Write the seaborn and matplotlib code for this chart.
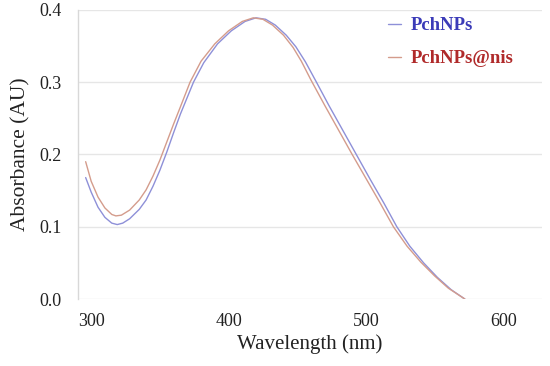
import matplotlib
matplotlib.use("Agg")
import matplotlib.pyplot as plt
import seaborn as sns
import pandas as pd

# Data
wl_nis = [296, 300, 305, 310, 315, 318, 322, 328, 335, 340, 345, 350, 355, 360, 365,
          372, 380, 390, 400, 410, 418, 425, 432, 440, 447, 453, 460, 470, 480, 490,
          500, 510, 520, 530, 540, 550, 560, 572]
abs_nis = [0.190, 0.163, 0.141, 0.126, 0.117, 0.115, 0.116, 0.123, 0.137, 0.151, 0.170,
           0.192, 0.217, 0.242, 0.266, 0.300, 0.329, 0.353, 0.371, 0.384, 0.389, 0.387,
           0.379, 0.365, 0.348, 0.329, 0.303, 0.268, 0.234, 0.200, 0.167, 0.134, 0.100,
           0.073, 0.051, 0.032, 0.015, 0.000]

wl_np = [296, 300, 305, 310, 315, 319, 323, 328, 335, 340, 345, 350, 355, 360, 365,
         374.5, 382, 392, 402, 412, 420, 427, 434, 442, 449, 456, 464, 473, 483, 493,
         503, 513, 522.5, 532, 542, 552, 562, 572]
abs_np = [0.168, 0.148, 0.127, 0.113, 0.105, 0.103, 0.105, 0.111, 0.124, 0.137, 0.156,
          0.178, 0.203, 0.230, 0.256, 0.300, 0.327, 0.353, 0.371, 0.384, 0.389, 0.387,
          0.379, 0.365, 0.349, 0.328, 0.300, 0.268, 0.234, 0.200, 0.166, 0.133, 0.100,
          0.073, 0.050, 0.030, 0.013, 0.000]

series_names = ["PchNPs", "PchNPs@nis"]
x_ticks = [300, 400, 500, 600]
y_ticks = [0.0, 0.1, 0.2, 0.3, 0.4]

df = pd.concat([
    pd.DataFrame({"Wavelength": wl_np, "Absorbance": abs_np, "Sample": series_names[0]}),
    pd.DataFrame({"Wavelength": wl_nis, "Absorbance": abs_nis, "Sample": series_names[1]}),
])

sns.set_theme(style="white")
plt.rcParams["font.family"] = ["Liberation Serif", "DejaVu Serif"]

fig = plt.figure(figsize=(5.5, 3.66), dpi=100)
ax = fig.add_axes([0.142, 0.183, 0.843, 0.790])

line_colors = {"PchNPs": "#8e90d8", "PchNPs@nis": "#d49c8c"}
text_colors = {"PchNPs": "#3b3bb8", "PchNPs@nis": "#b02a2a"}

sns.lineplot(data=df, x="Wavelength", y="Absorbance", hue="Sample",
             palette=line_colors, linewidth=1.0, ax=ax, legend=True, sort=False)

ax.set_xlim(290.5, 628)
ax.set_ylim(0, 0.4)
ax.set_xticks(x_ticks)
ax.set_yticks(y_ticks)
ax.set_yticklabels([f"{v:.1f}" for v in y_ticks])
ax.grid(axis="y", color="#e6e6e6", linewidth=1.0)
ax.grid(axis="x", visible=False)
for s in ["top", "right", "bottom"]:
    ax.spines[s].set_visible(False)
ax.spines["left"].set_color("#d8d8d8")
ax.spines["left"].set_linewidth(1.0)
ax.tick_params(axis="both", length=0, labelsize=13, colors="#222222")
ax.tick_params(axis="x", pad=10)
ax.tick_params(axis="y", pad=12)

ax.set_xlabel("Wavelength (nm)", fontsize=15, color="#222222", labelpad=3)
ax.set_ylabel("Absorbance (AU)", fontsize=15.5, color="#222222", labelpad=6)

leg = ax.legend(loc="upper left", bbox_to_anchor=(0.668, 0.975), frameon=False,
                borderpad=0, borderaxespad=0,
                handlelength=0.7, handletextpad=0.5, labelspacing=0.85,
                prop={"weight": "bold", "size": 13.5})
for t in leg.get_texts():
    t.set_color(text_colors[t.get_text()])
for h, name in zip(leg.legend_handles, series_names):
    h.set_color(line_colors[name])

fig.savefig("out.png", dpi=100)
